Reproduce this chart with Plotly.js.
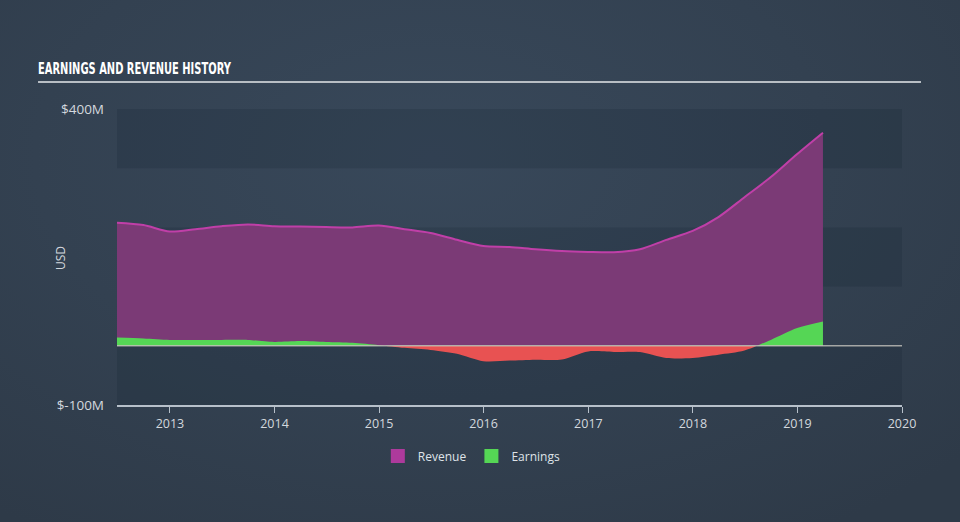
<!DOCTYPE html>
<html>
<head>
<meta charset="utf-8">
<script src="https://cdn.plot.ly/plotly-3.0.1.min.js"></script>
<style>
html, body { margin:0; padding:0; width:960px; height:522px; overflow:hidden;
  background: radial-gradient(ellipse 75% 85% at 45% 30%, #38485a 0%, #334151 55%, #2e3a48 100%); }
#chart { width:960px; height:522px; }
.gtitle { transform-box: fill-box; transform-origin: 0 50%; transform: scaleX(0.69); }
</style>
</head>
<body>
<div id="chart"></div>
<script>
// Quarterly periods (trailing twelve months), values in $M
const dates = [
  '2012-06-30','2012-09-30','2012-12-31',
  '2013-03-31','2013-06-30','2013-09-30','2013-12-31',
  '2014-03-31','2014-06-30','2014-09-30','2014-12-31',
  '2015-03-31','2015-06-30','2015-09-30','2015-12-31',
  '2016-03-31','2016-06-30','2016-09-30','2016-12-31',
  '2017-03-31','2017-06-30','2017-09-30','2017-12-31',
  '2018-03-31','2018-06-30','2018-09-30','2018-12-31',
  '2019-03-31'
];
const revenue = [
  208, 204, 193,
  197, 202, 205, 202,
  201.5, 200.5, 200, 203,
  197, 190.5, 179, 168.5,
  167, 163, 160, 158.5,
  158, 163, 179, 194,
  217.5, 251, 285, 324,
  360
];
const earnings = [
  14, 12.5, 10,
  10, 10, 10, 6.5,
  8, 6.5, 5, 1,
  -3.5, -7, -13.5, -26,
  -25, -23.5, -23, -9.5,
  -10.5, -10.5, -20.5, -20.5,
  -15, -8, 10, 30,
  41
];
const xTickVals = ['2013-01-01','2014-01-01','2015-01-01','2016-01-01','2017-01-01','2018-01-01','2019-01-01','2020-01-01'];
const xTickText = ['2013','2014','2015','2016','2017','2018','2019','2020'];
const yTickVals = [-100, 400];
const yTickText = ['$-100M', '$400M'];
const seriesNames = ['Revenue', 'Earnings'];

const REV_LINE = '#c03fa8';
const REV_FILL = '#7b3a76';
const REV_SWATCH = '#ad3a9c';
const GREEN = '#55d655';
const RED = '#e85252';
const TXT = '#d3d8de';
const FONT = 'Open Sans, Lato, sans-serif';

const traces = [
  {
    x: dates, y: revenue, type: 'scatter', mode: 'lines',
    line: { color: REV_LINE, width: 2, shape: 'spline', smoothing: 0.8 },
    fill: 'tozeroy', fillcolor: REV_FILL,
    showlegend: false, hoverinfo: 'skip'
  },
  {
    x: dates, y: earnings, type: 'scatter', mode: 'lines',
    line: { color: 'rgba(0,0,0,0)', width: 0, shape: 'spline', smoothing: 0.8 },
    fill: 'tozeroy',
    fillgradient: {
      type: 'vertical', start: -0.5, stop: 0.5,
      colorscale: [[0, RED], [0.5, RED], [0.5, GREEN], [1, GREEN]]
    },
    showlegend: false, hoverinfo: 'skip'
  },
  {
    x: [null], y: [null], type: 'scatter', mode: 'markers', name: seriesNames[0],
    marker: { symbol: 'square', size: 14, color: REV_SWATCH }, hoverinfo: 'skip'
  },
  {
    x: [null], y: [null], type: 'scatter', mode: 'markers', name: seriesNames[1],
    marker: { symbol: 'square', size: 14, color: GREEN }, hoverinfo: 'skip'
  }
];

const bandFill = 'rgba(10,20,32,0.14)';
const bands = [[300, 400], [100, 200], [-100, 0]].map(b => ({
  type: 'rect', xref: 'paper', yref: 'y', x0: 0, x1: 1, y0: b[0], y1: b[1],
  fillcolor: bandFill, line: { width: 0 }, layer: 'below'
}));

const layout = {
  width: 960, height: 522,
  margin: { l: 117, r: 58, t: 109, b: 117 },
  paper_bgcolor: 'rgba(0,0,0,0)',
  plot_bgcolor: 'rgba(0,0,0,0)',
  font: { family: FONT, size: 12, color: TXT },
  title: {
    text: 'EARNINGS AND REVENUE HISTORY',
    xref: 'container', yref: 'container',
    x: 38 / 960, xanchor: 'left', y: 1 - 68 / 522, yanchor: 'middle',
    font: { family: 'Liberation Sans Narrow, DejaVu Sans Condensed, Arial Narrow, sans-serif', size: 16, weight: 700, color: '#ffffff' }
  },
  xaxis: {
    type: 'date', range: ['2012-06-30', '2020-01-01'],
    showgrid: false, zeroline: false,
    showline: true, linecolor: '#b7c0ca', linewidth: 1.5,
    ticks: 'outside', ticklen: 6, tickwidth: 1, tickcolor: '#b7c0ca',
    tickvals: xTickVals, ticktext: xTickText,
    tickfont: { family: FONT, size: 12.5, color: TXT },
    fixedrange: true
  },
  yaxis: {
    range: [-100, 400], showgrid: false, zeroline: false, showline: false,
    ticks: '', tickvals: yTickVals, ticktext: yTickText,
    ticklabelstandoff: 12,
    tickfont: { family: FONT, size: 13.5, color: TXT },
    fixedrange: true
  },
  shapes: bands.concat([
    { type: 'line', xref: 'paper', yref: 'y', x0: 0, x1: 1, y0: 0, y1: 0,
      line: { color: 'rgba(205,203,195,0.75)', width: 1.5 }, layer: 'above' },
    { type: 'line', xref: 'paper', yref: 'paper', x0: -0.1006, x1: 1.0242, y0: 1.0912, y1: 1.0912,
      line: { color: '#b8bec4', width: 2 } }
  ]),
  annotations: [
    { text: 'USD', xref: 'paper', yref: 'paper', x: -0.0726, y: 0.4966,
      xanchor: 'center', yanchor: 'middle', textangle: -90, showarrow: false,
      font: { family: FONT, size: 12, color: TXT } }
  ],
  legend: {
    orientation: 'h', x: 0.452, xanchor: 'center', y: -0.172, yanchor: 'middle',
    font: { family: FONT, size: 12, color: '#dfe3e8' }, bgcolor: 'rgba(0,0,0,0)',
    itemwidth: 30
  },
  showlegend: true
};

Plotly.newPlot('chart', traces, layout, { displayModeBar: false, staticPlot: true });
</script>
</body>
</html>
